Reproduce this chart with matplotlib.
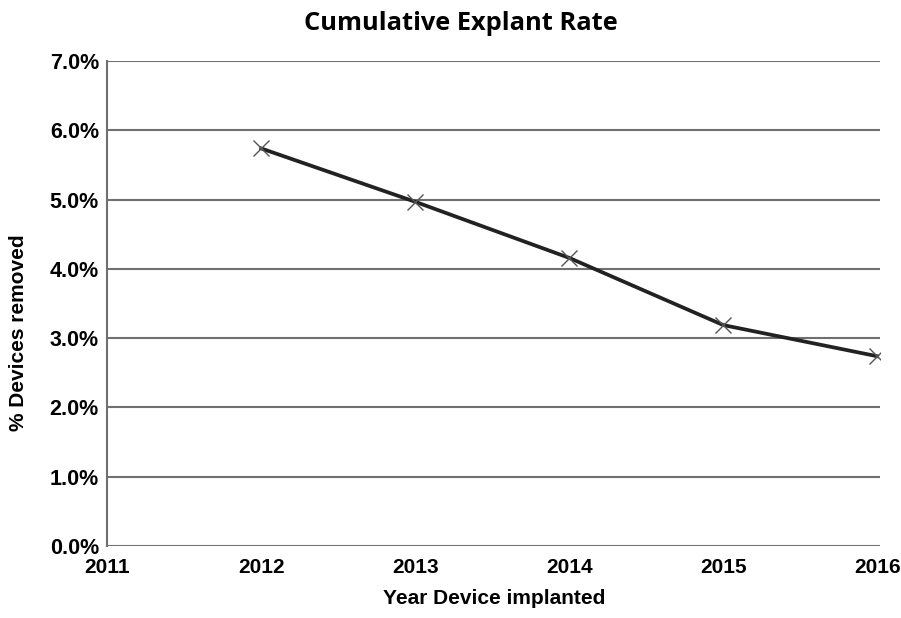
import numpy as np
import matplotlib.pyplot as plt
from matplotlib.ticker import FuncFormatter

# 数据
years = [2012, 2013, 2014, 2015, 2016]
removed_pct = [5.74, 4.97, 4.16, 3.19, 2.74]
year_ticks = [2011, 2012, 2013, 2014, 2015, 2016]
pct_ticks = [0, 1, 2, 3, 4, 5, 6, 7]

plt.rcParams['font.family'] = ['Liberation Sans', 'DejaVu Sans']

fig = plt.figure(figsize=(9.01, 6.18), dpi=100)
ax = fig.add_axes([0.119, 0.1165, 0.858, 0.7845])

ax.plot(years, removed_pct, color="#222222", linewidth=2.7, zorder=3)
ax.plot(years, removed_pct, linestyle="none", marker="x", markersize=11,
        markeredgewidth=1.0, color="#555555", zorder=4)

ax.set_xlim(2011, 2016.02)
ax.set_ylim(0, 7)
ax.set_xticks(year_ticks)
ax.set_yticks(pct_ticks)
ax.yaxis.set_major_formatter(FuncFormatter(lambda v, p: "{:.1f}%".format(v)))

for y in pct_ticks:
    ax.axhline(y, color="#707070", linewidth=1.5, zorder=1)

for s in ["top", "right", "bottom"]:
    ax.spines[s].set_visible(False)
ax.spines["left"].set_color("#707070")
ax.spines["left"].set_linewidth(1.5)

ax.tick_params(axis="both", length=0)
ax.tick_params(axis="y", pad=6, labelsize=15.5)
ax.tick_params(axis="x", pad=8.5, labelsize=15)
for lab in ax.get_xticklabels() + ax.get_yticklabels():
    lab.set_fontweight("bold")

ax.set_xlabel("Year Device implanted", fontsize=15, fontweight="bold", labelpad=9)
ax.set_ylabel("% Devices removed", fontsize=15, fontweight="bold")
ax.yaxis.set_label_coords(-0.102, 0.44)
fig.text(0.512, 1 - 30 / 618, "Cumulative Explant Rate", ha="center", va="baseline",
         fontsize=18.3, fontweight="bold", family=["Open Sans", "DejaVu Sans"])

fig.savefig("out.png", dpi=100, facecolor="white")
